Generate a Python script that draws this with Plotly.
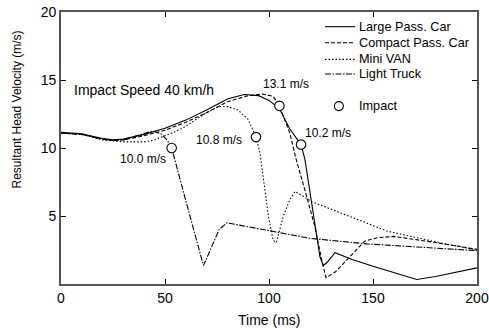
import plotly.graph_objects as go

# Large Pass. Car (solid)
large_t = [0, 10, 20, 25, 30, 40, 50, 60, 70, 80, 88, 95, 100, 105, 110, 113, 115.4, 117.3, 119.7, 122.9, 124.5, 126.1, 128, 131.7, 135, 140, 150, 160, 171, 180, 190, 200]
large_v = [11.15, 11.05, 10.7, 10.6, 10.65, 11.0, 11.45, 12.05, 12.8, 13.6, 13.93, 13.85, 13.5, 12.9, 11.4, 10.8, 10.25, 9.15, 6.7, 3.3, 2.0, 1.36, 1.6, 2.3, 2.1, 1.8, 1.3, 0.82, 0.33, 0.55, 0.85, 1.19]

# Compact Pass. Car (dashed)
compact_t = [0, 10, 20, 25, 30, 40, 50, 60, 70, 80, 90, 97, 102, 105, 110, 113, 118, 122, 125.3, 127.4, 132, 140, 146, 152, 160, 180, 200]
compact_v = [11.1, 11.0, 10.65, 10.55, 10.6, 10.9, 11.3, 11.9, 12.6, 13.4, 13.85, 13.97, 13.8, 13.1, 11.1, 9.2, 6.5, 4.25, 1.8, 0.46, 0.9, 2.2, 3.15, 3.4, 3.5, 3.05, 2.55]

# Mini VAN (dotted)
van_t = [0, 10, 20, 25, 30, 40, 45, 50, 55, 60, 65, 70, 76, 80, 85, 90, 93.75, 95.7, 99.7, 102, 103.5, 106.9, 110, 112.5, 116, 120.5, 140, 156.6, 180, 200]
van_v = [11.1, 11.0, 10.6, 10.5, 10.45, 10.45, 10.6, 10.9, 11.2, 11.6, 12.1, 12.6, 13.05, 13.05, 12.8, 12.1, 10.8, 9.6, 5.0, 3.2, 3.05, 5.0, 6.2, 6.8, 6.5, 6.05, 4.9, 3.9, 3.1, 2.5]

# Light Truck (dash-dot)
truck_t = [0, 10, 20, 25, 30, 35, 40, 44, 48, 51, 53.2, 58, 62, 68.5, 72, 76, 79.7, 90, 100, 120, 147, 170, 200]
truck_v = [11.1, 11.0, 10.65, 10.55, 10.6, 10.85, 11.1, 11.25, 11.05, 10.6, 10.0, 7.2, 5.0, 1.35, 2.6, 4.0, 4.5, 4.2, 3.9, 3.35, 2.95, 2.75, 2.45]

# Impact points
impact_t = [53.2, 93.75, 105, 115.4]
impact_v = [10.0, 10.8, 13.1, 10.25]
impact_labels = ["10.0 m/s", "10.8 m/s", "13.1 m/s", "10.2 m/s"]
label_t = [39.6, 76.1, 108.1, 128.5]
label_v = [9.2, 10.57, 14.67, 11.12]

series_names = ["Large Pass. Car", "Compact Pass. Car", "Mini VAN", "Light Truck"]
x_ticks = [0, 50, 100, 150, 200]
y_ticks = [5, 10, 15, 20]

FONT = "Liberation Sans, Arial, sans-serif"
dashes = ["solid", "4px,2px", "1.5px,2px", "6px,1.5px,1.5px,1.5px"]
series = [(large_t, large_v), (compact_t, compact_v), (van_t, van_v), (truck_t, truck_v)]

fig = go.Figure()
line_w = 1.1
for (t, v), name, d in zip(series, series_names, dashes):
    fig.add_trace(go.Scatter(x=t, y=v, mode="lines", name=name, showlegend=False,
                             line=dict(color="black", width=line_w, dash=d)))
fig.add_trace(go.Scatter(x=impact_t, y=impact_v, mode="markers", name="Impact", showlegend=False,
                         marker=dict(symbol="circle", size=9.5, color="white",
                                     line=dict(color="black", width=1.1))))

for t, v, s in zip(label_t, label_v, impact_labels):
    fig.add_annotation(x=t, y=v, text=s, showarrow=False,
                       font=dict(size=12, color="black", family=FONT))
fig.add_annotation(x=39.9, y=14.3, text="Impact Speed 40 km/h", showarrow=False,
                   font=dict(size=14, color="black", family=FONT))

# manual legend
row_y = [0.946, 0.887, 0.826, 0.772]
for y, name, d in zip(row_y, series_names, dashes):
    fig.add_shape(type="line", xref="paper", yref="paper", x0=0.6346, x1=0.7067, y0=y, y1=y,
                  line=dict(color="black", width=1.1, dash=d))
    fig.add_annotation(xref="paper", yref="paper", x=0.7115, y=y, text=name, showarrow=False,
                       xanchor="left", yanchor="middle",
                       font=dict(size=12.7, color="black", family=FONT))
fig.add_shape(type="circle", xref="paper", yref="paper", xsizemode="pixel", ysizemode="pixel",
              xanchor=0.668, yanchor=0.654, x0=-4.5, x1=4.5, y0=-4.5, y1=4.5,
              line=dict(color="black", width=1.1), fillcolor="white")
fig.add_annotation(xref="paper", yref="paper", x=0.7115, y=0.654, text="Impact", showarrow=False,
                   xanchor="left", yanchor="middle",
                   font=dict(size=12.7, color="black", family=FONT))

# axis titles
fig.add_annotation(xref="paper", yref="paper", x=0.5, y=-0.132, text="Time (ms)", showarrow=False,
                   xanchor="center", yanchor="middle", font=dict(size=14, color="black", family=FONT))
fig.add_annotation(xref="paper", yref="paper", x=-0.1058, y=0.6415, text="Resultant Head Velocity (m/s)",
                   showarrow=False, textangle=-90, xanchor="center", yanchor="middle",
                   font=dict(size=12, color="black", family=FONT))

fig.update_layout(
    width=489, height=332,
    margin=dict(l=61, r=12, t=12, b=48),
    paper_bgcolor="white", plot_bgcolor="white",
    font=dict(family=FONT, color="black", size=14),
    showlegend=False,
)
fig.update_xaxes(range=[0, 200], tickvals=x_ticks, ticks="inside", ticklen=5,
                 showgrid=False, zeroline=False, showline=True, linecolor="#555",
                 linewidth=1.6, mirror="ticks", tickcolor="black", automargin=False,
                 tickfont=dict(size=14))
fig.update_yaxes(range=[0, 20], tickvals=y_ticks, ticks="inside", ticklen=5,
                 showgrid=False, zeroline=False, showline=True, linecolor="#555",
                 linewidth=1.6, mirror="ticks", tickcolor="black", automargin=False,
                 tickfont=dict(size=14))

fig.write_html("out.html", config={"displayModeBar": False},
               post_script="document.body.style.margin='0';document.body.style.overflow='hidden';")
